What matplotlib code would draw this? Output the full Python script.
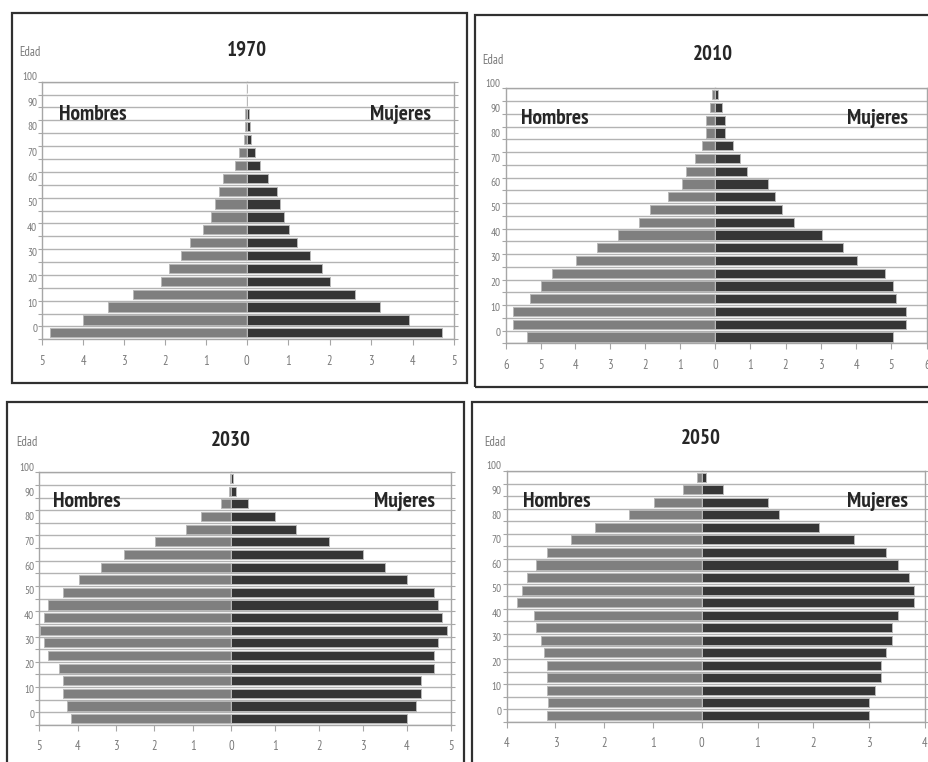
import numpy as np
import matplotlib
matplotlib.use('Agg')
import matplotlib.pyplot as plt
from matplotlib.patches import Rectangle

plt.rcParams['font.family'] = ['PT Sans Narrow', 'DejaVu Sans']

W, H = 929, 762

# grupos de edad quinquenales (limite inferior)
edades = np.arange(0, 100, 5)

anios = ['1970', '2010', '2030', '2050']
escala = [5, 6, 5, 4]

hombres_1970 = [4.81, 4.00, 3.40, 2.79, 2.09, 1.89, 1.61, 1.39, 1.08, 0.87,
                0.77, 0.68, 0.58, 0.28, 0.18, 0.07, 0.05, 0.03, 0, 0]
mujeres_1970 = [4.72, 3.92, 3.21, 2.62, 2.02, 1.81, 1.53, 1.21, 1.01, 0.91,
                0.81, 0.73, 0.52, 0.31, 0.21, 0.10, 0.08, 0.06, 0, 0]

hombres_2010 = [5.38, 5.78, 5.78, 5.29, 4.99, 4.68, 3.99, 3.38, 2.79, 2.17,
                1.86, 1.34, 0.96, 0.84, 0.57, 0.36, 0.26, 0.26, 0.15, 0.09]
mujeres_2010 = [5.04, 5.42, 5.42, 5.14, 5.04, 4.82, 4.03, 3.63, 3.04, 2.24,
                1.91, 1.70, 1.51, 0.91, 0.72, 0.51, 0.29, 0.29, 0.19, 0.08]

hombres_2030 = [4.18, 4.29, 4.37, 4.37, 4.49, 4.78, 4.87, 4.98, 4.87, 4.78,
                4.37, 3.97, 3.39, 2.79, 1.98, 1.18, 0.77, 0.27, 0.06, 0.02]
mujeres_2030 = [4.01, 4.21, 4.32, 4.32, 4.62, 4.62, 4.71, 4.91, 4.80, 4.71,
                4.62, 4.01, 3.51, 3.00, 2.22, 1.49, 1.00, 0.39, 0.11, 0.05]

hombres_2050 = [3.18, 3.15, 3.18, 3.18, 3.18, 3.24, 3.29, 3.39, 3.45, 3.79,
                3.68, 3.59, 3.39, 3.18, 2.68, 2.18, 1.49, 0.98, 0.38, 0.09]
mujeres_2050 = [3.00, 3.00, 3.10, 3.21, 3.21, 3.31, 3.41, 3.41, 3.51, 3.81,
                3.81, 3.71, 3.51, 3.31, 2.72, 2.10, 1.39, 1.19, 0.39, 0.07]

hombres = [hombres_1970, hombres_2010, hombres_2030, hombres_2050]
mujeres = [mujeres_1970, mujeres_2010, mujeres_2030, mujeres_2050]

# layout in pixels: marco (x0, y0, x1, y1), area (izq, cero, der, arriba, abajo)
marcos = [(12, 13, 467, 383), (475, 15, 940, 387),
          (7, 402, 464, 775), (472, 402, 940, 775)]
areas = [(42.3, 246.7, 454, 81.7, 339.3), (505.7, 715, 926.7, 88.3, 343.3),
         (39.3, 231, 450.7, 472.3, 725), (506.7, 701.7, 925, 471, 721.7)]
pos_titulo = [(247, 50), (713, 55), (231, 440), (701, 438)]
pos_edad = [(30, 53), (493, 60), (27, 442), (495, 442)]
pos_hombres = [(93, 115), (555, 118), (87, 501), (557, 501)]
pos_mujeres = [(400, 114), (877, 119), (404, 501), (877, 501)]

GRIS_H = '#7f7f7f'
GRIS_M = '#363636'
BORDE = '#b8b8b8'
REJILLA = '#b3b3b3'
EJE = '#a6a6a6'
TEXTO = '#7a7a7a'


def fx(x):
    return x / W


def fy(y):
    return 1 - y / H


def piramide(fig, i):
    izq, cero, der, arriba, abajo = areas[i]
    xmax = escala[i]
    alto = (abajo - arriba) / H
    ax_h = fig.add_axes([fx(izq), fy(abajo), (cero - izq) / W, alto])
    ax_m = fig.add_axes([fx(cero), fy(abajo), (der - cero) / W, alto])

    ax_h.barh(edades + 2.5, hombres[i], height=3.6, color=GRIS_H,
              edgecolor=BORDE, linewidth=0.7, zorder=2)
    ax_m.barh(edades + 2.5, mujeres[i], height=3.6, color=GRIS_M,
              edgecolor=BORDE, linewidth=0.7, zorder=2)

    ax_h.set_xlim(xmax, 0)
    ax_m.set_xlim(0, xmax)
    for ax in (ax_h, ax_m):
        ax.set_ylim(0, 100)
        ax.set_yticks(np.arange(0, 101, 5))
        ax.set_yticklabels([])
        ax.grid(axis='y', color=REJILLA, linewidth=1.0, zorder=0)
        ax.set_axisbelow(True)
        ax.tick_params(axis='y', direction='out', length=3, color=EJE, width=0.8)
        ax.tick_params(axis='x', direction='out', length=4, color=EJE, width=0.8,
                       labelsize=9, labelcolor=TEXTO, pad=7)
        for s in ax.spines.values():
            s.set_color(EJE)
            s.set_linewidth(1.0)
    ax_h.spines['right'].set_color('#c8c8c8')
    ax_h.spines['right'].set_zorder(3)
    ax_m.spines['left'].set_visible(False)
    ax_m.yaxis.tick_right()
    ax_m.tick_params(axis='y', which='both', left=False)

    ax_h.set_xticks(range(xmax + 1))
    ax_h.set_xticklabels([str(v) for v in range(xmax + 1)])
    ax_m.set_xticks(range(1, xmax + 1))
    ax_m.set_xticklabels([str(v) for v in range(1, xmax + 1)])

    # etiquetas de edad
    dx = -5 / (cero - izq)
    for v in range(0, 101, 10):
        ax_h.text(dx, 4 + 0.978 * v, str(v), transform=ax_h.get_yaxis_transform(),
                  ha='right', va='center', fontsize=8, color=TEXTO, clip_on=False)

    x, y = pos_titulo[i]
    fig.text(fx(x), fy(y), anios[i], ha='center', va='center',
             fontsize=15, fontweight='bold', color='#262626')
    x, y = pos_edad[i]
    fig.text(fx(x), fy(y), 'Edad', ha='center', va='center',
             fontsize=9, color=TEXTO)
    x, y = pos_hombres[i]
    fig.text(fx(x), fy(y), 'Hombres', ha='center', va='center',
             fontsize=15.5, fontweight='bold', color='#262626', zorder=5)
    x, y = pos_mujeres[i]
    fig.text(fx(x), fy(y), 'Mujeres', ha='center', va='center',
             fontsize=15.5, fontweight='bold', color='#262626', zorder=5)

    x0, y0, x1, y1 = marcos[i]
    fig.patches.append(Rectangle((fx(x0), fy(y1)), (x1 - x0) / W, (y1 - y0) / H,
                                 transform=fig.transFigure, fill=False,
                                 edgecolor='#303030', linewidth=1.6))


fig = plt.figure(figsize=(W / 100, H / 100), dpi=100)
fig.patch.set_facecolor('white')
for i in range(4):
    piramide(fig, i)

fig.savefig('out.png', dpi=100, facecolor='white')
